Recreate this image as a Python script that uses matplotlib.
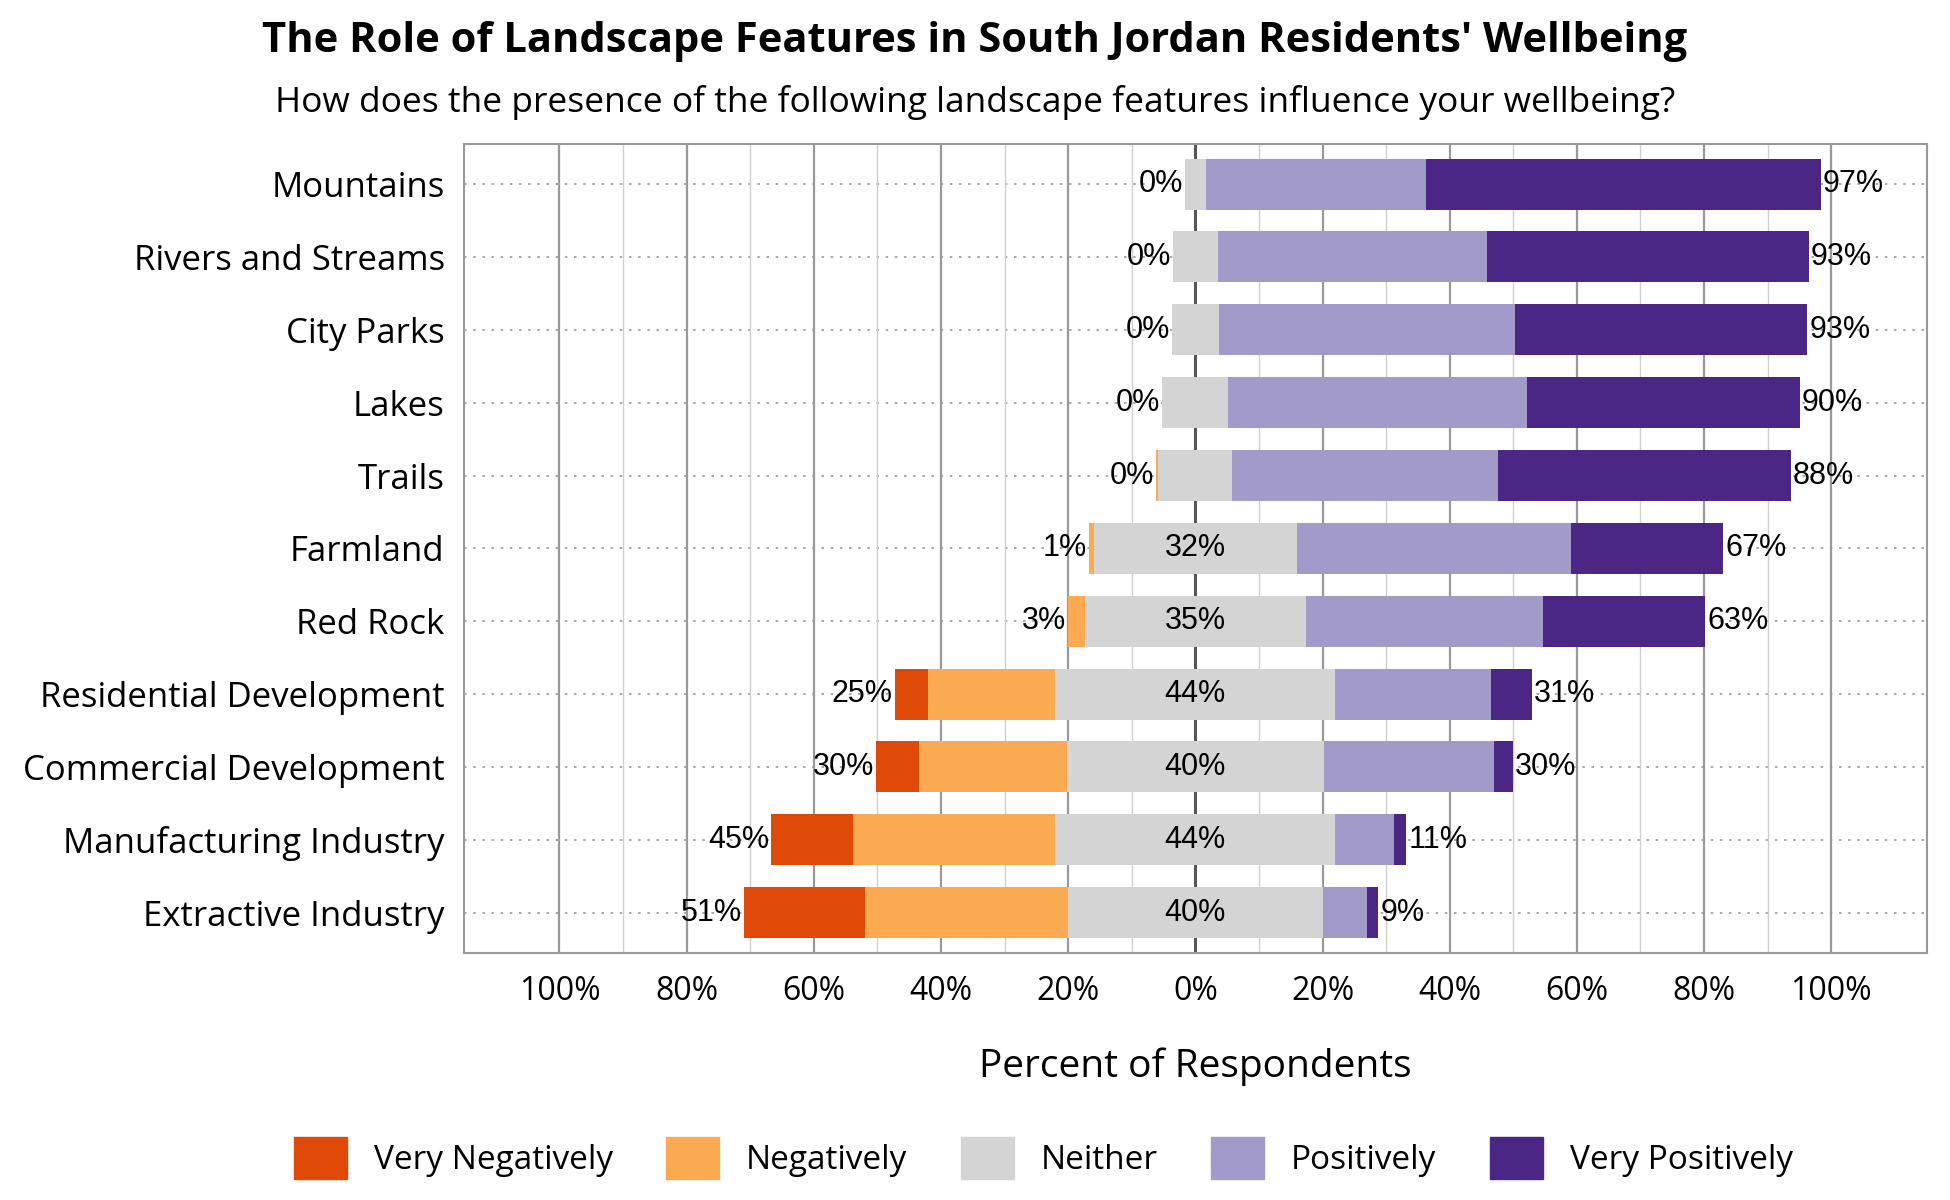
import matplotlib
matplotlib.use("Agg")
import matplotlib.pyplot as plt
import numpy as np

categories = ["Mountains", "Rivers and Streams", "City Parks", "Lakes", "Trails", "Farmland",
              "Red Rock", "Residential Development", "Commercial Development",
              "Manufacturing Industry", "Extractive Industry"]
very_neg = [0, 0, 0, 0, 0, 0, 0, 5.3, 6.7, 12.9, 19.0]
neg = [0, 0, 0, 0, 0.4, 0.8, 2.7, 20.0, 23.3, 31.8, 32.0]
neither = [3.3, 7.0, 7.3, 10.4, 11.6, 32.0, 34.8, 44.0, 40.4, 44.0, 40.0]
pos = [34.7, 42.4, 46.6, 46.9, 41.8, 43.0, 37.3, 24.5, 26.8, 9.2, 7.0]
very_pos = [62.0, 50.6, 46.0, 43.0, 46.0, 24.0, 25.5, 6.5, 3.0, 2.0, 1.8]

colors = ["#e04a09", "#fcaa52", "#d4d4d4", "#a29ac9", "#4b2785"]
names = ["Very Negatively", "Negatively", "Neither", "Positively", "Very Positively"]

fig = plt.figure(figsize=(19.5, 12), dpi=100)
ax = fig.add_axes([0.238, 0.206, 0.75, 0.674])
y = np.arange(len(categories))
vn, ng, ne, ps, vp = map(np.array, (very_neg, neg, neither, pos, very_pos))
h = 0.7
left_ne = -ne / 2
ax.barh(y, ne, left=left_ne, height=h, color=colors[2], zorder=3)
ax.barh(y, -ng, left=left_ne, height=h, color=colors[1], zorder=3)
ax.barh(y, -vn, left=left_ne - ng, height=h, color=colors[0], zorder=3)
ax.barh(y, ps, left=ne / 2, height=h, color=colors[3], zorder=3)
ax.barh(y, vp, left=ne / 2 + ps, height=h, color=colors[4], zorder=3)

lf = dict(fontsize=22, family="Liberation Sans", va="center", zorder=4)
for i in range(len(categories)):
    nsum = vn[i] + ng[i]
    ax.text(left_ne[i] - nsum - 0.3, y[i], f"{round(nsum):.0f}%", ha="right", **lf)
    psum = ps[i] + vp[i]
    ax.text(ne[i] / 2 + psum + 0.3, y[i], f"{round(psum):.0f}%", ha="left", **lf)
    if ne[i] > 15:
        ax.text(0, y[i], f"{round(ne[i]):.0f}%", ha="center", **lf)

ax.set_xlim(-115, 115)
ax.set_ylim(len(categories) - 0.5 + 0.05, -0.5 - 0.05)
for xv in range(-100, 101, 10):
    if xv == 0:
        c, lw = "#555555", 2.2
    elif xv % 20 == 0:
        c, lw = "#999999", 1.6
    else:
        c, lw = "#d0d0d0", 1.0
    ax.axvline(xv, color=c, lw=lw, zorder=1)
for yi in y:
    ax.axhline(yi, color="#999999", lw=1.2, ls=(0, (1.5, 4)), zorder=0)
ax.set_xticks(range(-100, 101, 20))
ax.set_xticklabels([f"{abs(v)}%" for v in range(-100, 101, 20)], fontsize=23, family="Open Sans")
ax.set_yticks(y)
ax.set_yticklabels(categories, fontsize=25, family="Open Sans")
ax.tick_params(length=0, pad=14)
ax.tick_params(axis="x", pad=16)
for s in ax.spines.values():
    s.set_color("#999999")
    s.set_linewidth(1.5)
ax.set_xlabel("Percent of Respondents", fontsize=28, family="Open Sans", labelpad=28)

fig.text(0.5, 0.965, "The Role of Landscape Features in South Jordan Residents' Wellbeing",
         ha="center", va="center", fontsize=30, fontweight="bold", family="Open Sans")
fig.text(0.5, 0.915, "How does the presence of the following landscape features influence your wellbeing?",
         ha="center", va="center", fontsize=25.5, family="Open Sans")

handles = [plt.Rectangle((0, 0), 1, 1, color=c) for c in colors]
fig.legend(handles, names, loc="center", bbox_to_anchor=(0.535, 0.035), ncol=5, frameon=False,
           prop={"family": "Open Sans", "size": 24}, handlelength=1.6, handleheight=1.6,
           columnspacing=1.6, handletextpad=0.8)
fig.savefig("out.png", dpi=100)
